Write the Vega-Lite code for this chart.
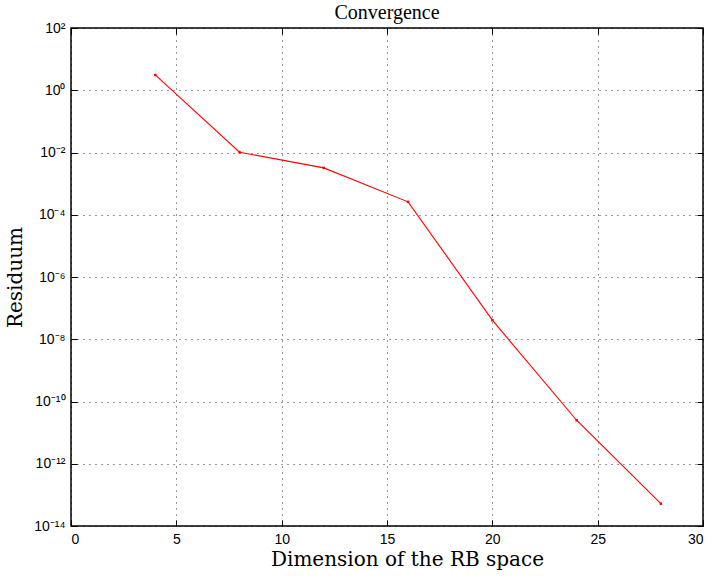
{
  "$schema": "https://vega.github.io/schema/vega-lite/v6.json",
  "autosize": {"type": "none"},
  "padding": {"left": 71, "top": 28, "right": 10, "bottom": 53},
  "width": 632,
  "height": 498,
  "background": "white",
  "title": {"text": "Convergence", "font": "Liberation Serif", "fontSize": 20, "fontWeight": "normal", "color": "black", "offset": 0, "dy": 2},
  "config": {
    "view": {"stroke": "black", "strokeWidth": 1.5},
    "axis": {
      "labelFont": "Liberation Sans", "labelFontSize": 14, "labelColor": "black",
      "titleFont": "DejaVu Serif", "titleFontSize": 20, "titleFontWeight": "normal", "titleColor": "black",
      "domain": false, "tickColor": "black", "tickSize": -6, "tickWidth": 1,
      "gridColor": "black", "gridDash": [1, 5], "gridOpacity": 0.8, "gridWidth": 1
    }
  },
  "data": {"values": [
    {"dim": 4, "res": 3.1},
    {"dim": 8, "res": 0.0102},
    {"dim": 12, "res": 0.0032},
    {"dim": 16, "res": 0.00026},
    {"dim": 20, "res": 4.1e-8},
    {"dim": 24, "res": 2.5e-11},
    {"dim": 28, "res": 5.2e-14}
  ]},
  "resolve": {"axis": {"x": "independent", "y": "independent"}},
  "layer": [
    {
      "mark": {"type": "line", "color": "#ff0000", "strokeWidth": 1.1, "point": {"filled": true, "shape": "square", "size": 6, "color": "#ff0000"}},
      "encoding": {
        "x": {"field": "dim", "type": "quantitative", "scale": {"domain": [0, 30], "nice": false},
              "axis": {"title": "Dimension of the RB space", "values": [0, 5, 10, 15, 20, 25, 30], "labelPadding": 12, "titlePadding": 3, "titleX": 336}},
        "y": {"field": "res", "type": "quantitative", "scale": {"type": "log", "domain": [1e-14, 100], "nice": false},
              "axis": {"title": "Residuum", "values": [1e-14, 1e-12, 1e-10, 1e-8, 1e-6, 1e-4, 1e-2, 1, 100], "labelPadding": 12, "titlePadding": 8,
                       "labelExpr": "'10' + replace(replace(replace(replace(replace(replace(replace(replace(toString(round(log(datum.value)/LN10)), '-', '⁻'), '0', '⁰'), '1', '¹'), '2', '²'), '4', '⁴'), '6', '⁶'), '8', '⁸'), '1', '¹')"}}
      }
    },
    {
      "mark": {"type": "point", "opacity": 0},
      "encoding": {
        "x": {"field": "dim", "type": "quantitative", "axis": {"orient": "top", "labels": false, "title": null, "grid": false, "values": [0, 5, 10, 15, 20, 25, 30]}},
        "y": {"field": "res", "type": "quantitative", "scale": {"type": "log"}, "axis": {"orient": "right", "labels": false, "title": null, "grid": false, "values": [1e-14, 1e-12, 1e-10, 1e-8, 1e-6, 1e-4, 1e-2, 1, 100]}}
      }
    }
  ]
}
